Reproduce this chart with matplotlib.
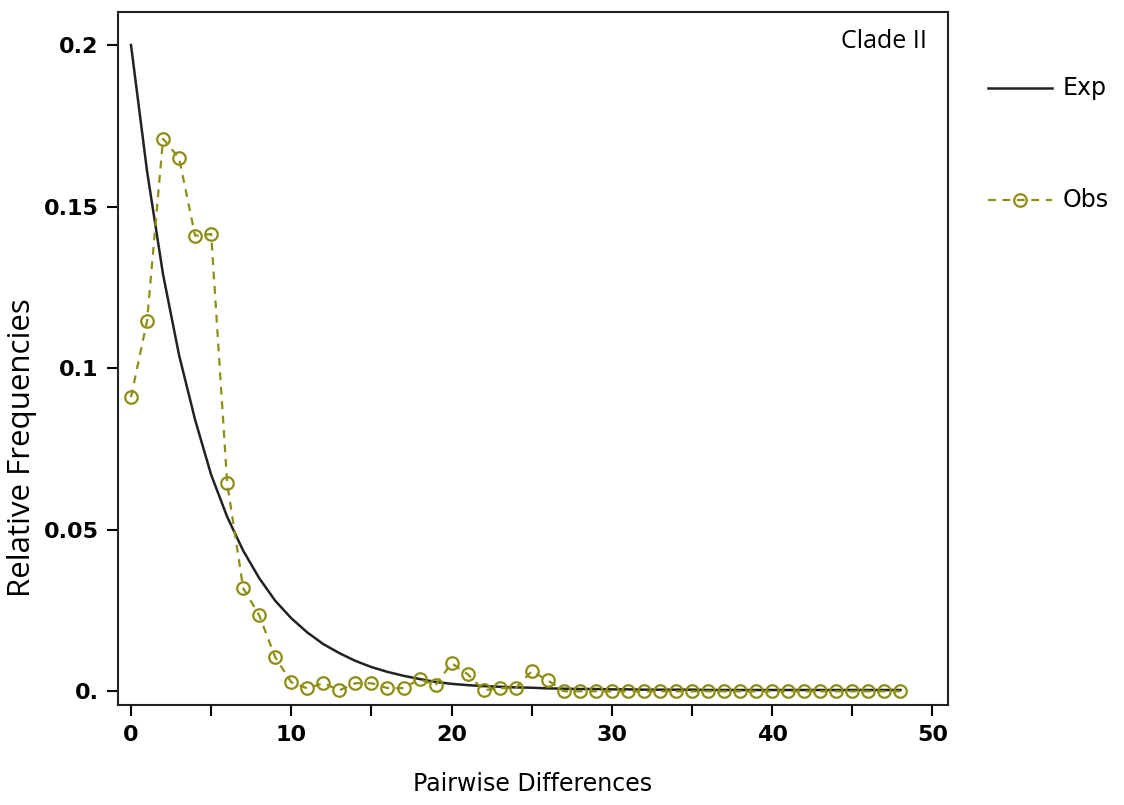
import matplotlib
matplotlib.use('Agg')
import matplotlib.pyplot as plt
from matplotlib.ticker import MultipleLocator

# pairwise differences (x) and relative frequencies
diffs = list(range(0, 49))

obs = [0.091, 0.1146, 0.171, 0.165, 0.141, 0.1415, 0.0644, 0.0319, 0.0235, 0.0105,
       0.0028, 0.0009, 0.0025, 0.0003, 0.0025, 0.0025, 0.001, 0.001, 0.0037, 0.0019,
       0.0087, 0.0053, 0.0003, 0.001, 0.001, 0.0062, 0.0034, 0.0, 0.0, 0.0,
       0.0, 0.0, 0.0, 0.0, 0.0, 0.0, 0.0, 0.0, 0.0, 0.0,
       0.0, 0.0, 0.0, 0.0, 0.0, 0.0, 0.0, 0.0, 0.0]

exp_ = [0.200, 0.161, 0.129, 0.104, 0.084, 0.067, 0.054, 0.0435, 0.035, 0.028,
        0.0226, 0.0182, 0.0146, 0.0118, 0.0094, 0.0075, 0.006, 0.0048, 0.0038, 0.0029,
        0.0023, 0.0019, 0.0016, 0.0014, 0.0012, 0.0011, 0.0009, 0.0008, 0.0007, 0.0007,
        0.0006, 0.0006, 0.0005, 0.0005, 0.0005, 0.0005, 0.0004, 0.0004, 0.0004, 0.0004,
        0.0004, 0.0004, 0.0004, 0.0004, 0.0004, 0.0004, 0.0004, 0.0004, 0.0004]

xticks = [0, 10, 20, 30, 40, 50]
yticks = [0.0, 0.05, 0.1, 0.15, 0.2]
ytick_labels = ['0.', '0.05', '0.1', '0.15', '0.2']

tick_font = 'DejaVu Sans'
olive = '#8e8e14'

fig = plt.figure(figsize=(11.24, 8.05), dpi=100)
ax = fig.add_axes([0.105, 0.124, 0.738, 0.861])

ax.plot(diffs, exp_, color='#222222', lw=1.8)
ax.plot(diffs, obs, color=olive, lw=1.6, ls=(0, (3.5, 3)),
        marker='o', ms=9, mfc='none', mec=olive, mew=1.6)

ax.set_xlim(-0.81, 50.94)
ax.set_ylim(-0.0043, 0.2102)

ax.set_xticks(xticks)
ax.xaxis.set_minor_locator(MultipleLocator(5))
ax.set_yticks(yticks)
ax.set_yticklabels(ytick_labels)

ax.tick_params(axis='both', which='both', direction='out', width=1.5)
ax.tick_params(axis='both', which='major', length=8, pad=6)
ax.tick_params(axis='x', which='minor', length=8)
for lab in ax.get_xticklabels() + ax.get_yticklabels():
    lab.set_fontfamily(tick_font)
    lab.set_fontweight('bold')
    lab.set_fontsize(16)

for sp in ax.spines.values():
    sp.set_linewidth(1.5)
    sp.set_color('#222222')

ax.set_xlabel('Pairwise Differences', family=tick_font, fontsize=17, labelpad=20)
ax.set_ylabel('Relative Frequencies', family='Open Sans', fontsize=22.5)
ax.yaxis.set_label_coords(-0.098, 0.372)

ax.text(0.975, 0.975, 'Clade II', transform=ax.transAxes, ha='right', va='top',
        family='Open Sans', fontsize=18)

# legend outside on the right
fig.lines.append(plt.Line2D([988 / 1124, 1052 / 1124], [1 - 88 / 805] * 2,
                            transform=fig.transFigure, color='#222222', lw=1.8))
fig.text(1063 / 1124, 1 - 88 / 805, 'Exp', family=tick_font, fontsize=17, va='center')
fig.lines.append(plt.Line2D([988 / 1124, 1020 / 1124, 1052 / 1124], [1 - 200 / 805] * 3,
                            transform=fig.transFigure, color=olive, lw=1.6,
                            ls=(0, (3.5, 3)), marker='o', markevery=[1], ms=9,
                            mfc='none', mec=olive, mew=1.6))
fig.text(1063 / 1124, 1 - 200 / 805, 'Obs', family=tick_font, fontsize=17, va='center')

fig.savefig('out.png', dpi=100)
